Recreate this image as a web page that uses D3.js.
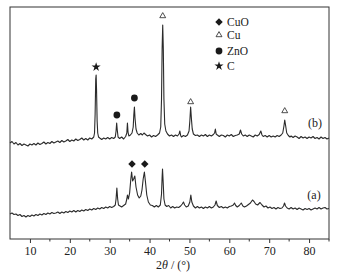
<!DOCTYPE html>
<html lang="en">
	<head>
		<meta charset="utf-8">
		<title>XRD patterns</title>
		<script src="https://d3js.org/d3.v7.min.js"></script>
		<style type="text/css">
body { margin: 0; background: #fff; }
text { font-family: "Liberation Serif", "Times New Roman", serif; fill: #222; }
		</style>
	</head>
	<body>
<div id="chart"></div>
		<script type="text/javascript">
// pattern (a): [2theta, intensity]
var patternA = [[5,25],[5.5,26],[6,24.5],[6.5,25],[7,23.5],[7.5,24.5],[8,22.5],[8.5,23.5],[9,22],[9.5,23.5],[10,22.5],
  [10.5,24],[11,23],[11.5,24.5],[12,23.5],[12.5,25],[13,24],[13.5,25.5],[14,24.5],[14.5,26],[15,25],[15.5,26.5],
  [16,25.5],[16.5,26],[17,27],[17.5,25.5],[18,27],[18.5,26],[19,27.5],[19.5,26.5],[20,28],[20.5,27],[21,28.5],
  [21.5,27],[22,28.5],[22.5,27.5],[23,29],[23.5,28],[24,29.5],[24.5,28.5],[25,30],[25.5,29],[26,30.5],[26.5,29.5],
  [27,31],[27.5,30],[28,31.5],[28.5,30.5],[29,32],[29.5,31],[30,32.5],[30.5,31.5],[31,32.5],[31.4,34],[31.6,40],
  [31.8,51],[32,40],[32.2,34],[32.6,33],[33,32],[33.5,33.5],[34,35],[34.3,40],[34.45,44],[34.7,40],[35,46],
  [35.3,60],[35.5,67],[35.75,58],[36,60],[36.3,63],[36.6,52],[37,44],[37.4,41],[37.8,43],[38.1,49],[38.4,60],
  [38.7,67],[38.95,58],[39.3,44],[39.7,37],[40.2,34],[40.7,33.5],[41.2,32],[41.7,33.5],[42.2,32],[42.7,34],
  [43,45],[43.15,62],[43.25,70],[43.4,58],[43.6,40],[43.9,34],[44.3,32.5],[44.8,33.5],[45.3,31],[45.8,32.5],
  [46.3,31],[46.8,32],[47.3,31.5],[47.8,33],[48.2,35],[48.5,37],[48.8,34],[49.2,32],[49.7,33],[50.1,37],
  [50.35,44],[50.6,37],[51,33],[51.5,31],[52,32.5],[52.5,31],[53,32],[53.5,30.5],[54,32],[54.5,31],[55,32.5],
  [55.5,31],[56,32],[56.4,34],[56.7,38],[57,33.5],[57.5,31.5],[58,32.5],[58.5,31],[59,32],[59.5,31],[60,32.5],
  [60.5,33],[61,34],[61.3,36],[61.6,33.5],[62,32],[62.5,33.5],[63,36],[63.4,33],[63.8,32],[64.3,33],[64.8,34.5],
  [65.3,36],[65.8,39],[66.2,37.5],[66.6,35],[67.1,34],[67.7,36.5],[68.2,34],[68.7,32],[69.2,33],[69.7,31],
  [70.2,32],[70.7,30.5],[71.2,31.5],[71.7,30],[72.2,31.5],[72.7,30.5],[73.2,31],[73.6,33],[73.85,36],[74.1,33],
  [74.5,31],[75,30],[75.5,31.5],[76,30],[76.5,31],[77,29.5],[77.5,31],[78,30],[78.5,29],[79,30.5],[79.5,29.5],
  [80,30.5],[80.5,29],[81,30],[81.5,31],[82,30],[82.5,31.5],[83,30],[83.5,31],[84,31.5],[84.5,30],[85,30.5]];

// pattern (b): [2theta, intensity]
var patternB = [[5,96],[5.5,97.5],[6,95],[6.5,96.5],[7,94],[7.5,95.5],[8,93.5],[8.5,95],[9,94],[9.5,93],[10,95],
  [10.5,94],[11,95.5],[11.5,94],[12,96],[12.5,94.5],[13,95.5],[13.5,97],[14,95],[14.5,96.5],[15,95.5],[15.5,97.5],
  [16,96],[16.5,97],[17,98],[17.5,96.5],[18,98.5],[18.5,97],[19,98],[19.5,99.5],[20,97.5],[20.5,99],[21,98],
  [21.5,100],[22,98.5],[22.5,99.5],[23,101],[23.5,99],[24,100.5],[24.5,99],[25,101],[25.5,100],[26,102],
  [26.2,106],[26.35,125],[26.5,160],[26.6,164],[26.7,150],[26.85,118],[27,106],[27.2,102],[27.5,101],[28,99.5],
  [28.5,101],[29,100],[29.5,101.5],[30,100],[30.5,101.5],[31,100.5],[31.4,102],[31.6,108],[31.75,116],[31.9,109],
  [32.1,102],[32.5,100.5],[33,102],[33.5,100],[34,102.5],[34.3,106],[34.45,116],[34.6,107],[34.8,103],[35.2,104],
  [35.6,106],[35.9,112],[36.05,124],[36.2,132],[36.35,121],[36.6,110],[36.9,106],[37.3,104],[37.8,105.5],
  [38.2,104],[38.6,106],[39,104.5],[39.5,103],[40,104],[40.5,102],[41,103.5],[41.5,102.5],[42,104],[42.5,106],
  [42.8,112],[43,140],[43.15,190],[43.3,214],[43.45,190],[43.6,140],[43.8,115],[44.1,108],[44.5,105],[45,103],
  [45.5,104],[46,102.5],[46.5,104],[47,103],[47.4,105],[47.6,108],[47.8,103.5],[48,102],[48.5,103.5],[49,102.5],
  [49.5,104],[49.9,108],[50.1,118],[50.3,132],[50.5,120],[50.7,110],[51,105],[51.5,103.5],[52,104],[52.5,102.5],
  [53,104],[53.5,103],[54,104.5],[54.5,102.5],[55,104],[55.5,103],[56,104.5],[56.3,106],[56.5,110],[56.7,105],
  [57,104],[57.5,102.5],[58,104],[58.5,103.5],[59,102],[59.5,104],[60,103],[60.5,104.5],[61,102.5],[61.5,103.5],
  [62,104],[62.5,105],[62.8,109],[63.1,105],[63.5,103],[64,104],[64.5,102.5],[65,104],[65.5,103],[66,102],
  [66.5,104],[67,103],[67.5,104.5],[67.9,108],[68.2,104],[68.5,102.5],[69,103.5],[69.5,102],[70,103.5],[70.5,102],
  [71,103],[71.5,102],[72,103.5],[72.5,102.5],[73,104],[73.4,106],[73.7,113],[73.9,119],[74.1,114],[74.4,106],
  [74.8,103.5],[75.2,102],[75.5,103],[76,101.5],[76.5,103],[77,102],[77.5,100.5],[78,102.5],[78.5,101],[79,102],
  [79.5,100.5],[80,102],[80.5,101],[81,102.5],[81.5,100.5],[82,101.5],[82.5,100],[83,102],[83.5,100.5],[84,101.5],
  [84.5,100],[85,101]];

// phase markers: [phase, 2theta, intensity]
var peakMarks = [["C",26.6,172],["ZnO",31.8,124],["ZnO",36.2,141],["Cu",43.3,223],["Cu",50.3,137],["Cu",73.9,128],
  ["CuO",35.6,75],["CuO",38.8,75]];
var phases = ["CuO","Cu","ZnO","C"];
var xTicks = [10,20,30,40,50,60,70,80];
var xMinor = [15,25,35,45,55,65,75,85];

var w = 337, h = 275;
var plotLeft = 10, plotRight = 329, plotTop = 7, plotBottom = 239;

var xScale = d3.scaleLinear().domain([5, 85]).range([plotLeft, plotRight]);
var yScale = d3.scaleLinear().domain([0, 232]).range([plotBottom, plotTop]);

var svg = d3.select("#chart").append("svg")
	.attr("width", w)
	.attr("height", h);

var line = d3.line()
	.x(d => xScale(d[0]))
	.y(d => yScale(d[1]));

[patternA, patternB].forEach(function(p) {
	svg.append("path")
		.datum(p)
		.attr("d", line)
		.attr("fill", "none")
		.attr("stroke", "#2b2b2b")
		.attr("stroke-width", 1.1)
		.attr("stroke-linejoin", "round");
});

//frame
svg.append("rect")
	.attr("x", plotLeft).attr("y", plotTop)
	.attr("width", plotRight - plotLeft).attr("height", plotBottom - plotTop)
	.attr("fill", "none")
	.attr("stroke", "#333")
	.attr("stroke-width", 1);

//X axis
var xAxis = d3.axisBottom(xScale).tickValues(xTicks).tickSize(4).tickPadding(3).tickFormat(d3.format("d"));
var gx = svg.append("g")
	.attr("transform", "translate(0," + plotBottom + ")")
	.call(xAxis);
gx.select(".domain").remove();
gx.selectAll("line").attr("stroke", "#333");
gx.selectAll("text")
	.style("font-family", "Liberation Serif")
	.style("font-size", "12px")
	.attr("fill", "#222");

svg.append("g")
	.attr("transform", "translate(0," + plotBottom + ")")
	.selectAll("line")
	.data(xMinor)
	.enter()
	.append("line")
	.attr("x1", d => xScale(d)).attr("x2", d => xScale(d))
	.attr("y1", 0).attr("y2", 2.5)
	.attr("stroke", "#333");

//axis title
var title = svg.append("text")
	.attr("x", 173)
	.attr("y", 269)
	.attr("text-anchor", "middle")
	.style("font-size", "12px");
title.append("tspan").text("2");
title.append("tspan").style("font-style", "italic").text("θ");
title.append("tspan").text(" / (°)");

//symbols
var symbolFor = {
	"CuO": d3.symbol().type(d3.symbolDiamond2).size(36),
	"Cu": d3.symbol().type(d3.symbolTriangle).size(15),
	"ZnO": d3.symbol().type(d3.symbolCircle).size(36),
	"C": d3.symbol().type(d3.symbolStar).size(26)
};
function drawSymbol(g, phase) {
	var path = g.append("path").attr("d", symbolFor[phase]());
	if (phase === "Cu") {
		path.attr("fill", "#fff").attr("stroke", "#222").attr("stroke-width", 0.8);
	} else {
		path.attr("fill", "#1a1a1a");
	}
	return path;
}

peakMarks.forEach(function(m) {
	var g = svg.append("g").attr("transform", "translate(" + xScale(m[1]) + "," + yScale(m[2]) + ")");
	drawSymbol(g, m[0]);
});

//legend
var legendY = [22, 35, 51, 66];
phases.forEach(function(ph, i) {
	var g = svg.append("g").attr("transform", "translate(219," + legendY[i] + ")");
	drawSymbol(g, ph);
	g.append("text")
		.attr("x", 8)
		.attr("y", 4)
		.style("font-size", "11.5px")
		.text(ph);
});

//pattern labels
svg.append("text").attr("x", 315).attr("y", 127).attr("text-anchor", "middle").style("font-size", "12px").text("(b)");
svg.append("text").attr("x", 314).attr("y", 199).attr("text-anchor", "middle").style("font-size", "12px").text("(a)");

		</script>
	</body>
</html>
